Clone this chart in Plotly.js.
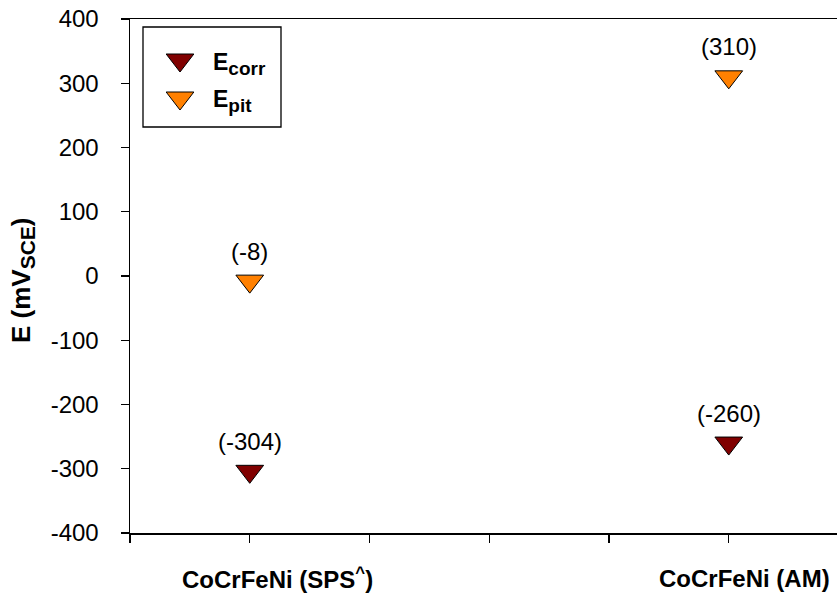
<!DOCTYPE html>
<html><head><meta charset="utf-8">
<script src="https://cdn.plot.ly/plotly-3.0.1.min.js"></script>
<style>html,body{margin:0;padding:0;background:#fff}</style></head>
<body>
<div id="chart" style="width:837px;height:593px"></div>
<script>
// ---- data ----
const categories = ['CoCrFeNi (SPS<sup>^</sup>)', 'CoCrFeNi (AM)'];
const categoryX = [1, 5];
const eCorr = [-304, -260];
const ePit = [-8, 310];
const seriesNames = ['E<sub><span style="font-size:19px">corr</span></sub>', 'E<sub><span style="font-size:19px">pit</span></sub>'];
const yTickVals = [-400, -300, -200, -100, 0, 100, 200, 300, 400];
const yTickText = ['-400', '-300', '-200', '-100', '0', '100', '200', '300', '400'];
const xTickVals = [0, 1, 2, 3, 4, 5];

// ---- styling ----
const W = 837, H = 593, L = 130, T = 19, R = 0, B = 60;
const PW = W - L - R, PH = H - T - B;
const px = x => (x - L) / PW;
const py = y => (H - B - y) / PH;
const colors = ['#800000', '#FF8000'];
const FONT = 'Liberation Sans, Arial, sans-serif';
const MS = 24;
const mk = c => ({symbol: 'triangle-down', size: MS, color: c, line: {color: '#000', width: 1}});
const catShift = [28, 16];

const series = [eCorr, ePit];
const traces = series.map((s, i) => ({
  x: categoryX, y: s, type: 'scatter', mode: 'markers',
  marker: mk(colors[i]), name: seriesNames[i], showlegend: false, cliponaxis: false
}));

// custom legend markers
traces.push({
  x: [px(180), px(180)], y: [py(60), py(98)], xaxis: 'x2', yaxis: 'y2',
  type: 'scatter', mode: 'markers', showlegend: false, hoverinfo: 'skip',
  marker: {symbol: 'triangle-down', size: MS, color: colors, line: {color: '#000', width: 1}}
});

const annotations = [];
series.forEach(s => s.forEach((v, j) => {
  annotations.push({x: categoryX[j], y: v, text: '(' + v + ')', showarrow: false,
    yshift: 30, xanchor: 'center', yanchor: 'middle', font: {family: FONT, size: 24, color: '#000'}});
}));
// category labels
categories.forEach((c, j) => {
  annotations.push({x: categoryX[j], xref: 'x', yref: 'paper', y: py(578), text: '<b>' + c + '</b>',
    xshift: catShift[j], showarrow: false, xanchor: 'center', yanchor: 'middle',
    font: {family: FONT, size: 24, color: '#000'}});
});
// legend labels
seriesNames.forEach((n, i) => {
  annotations.push({xref: 'paper', yref: 'paper', x: px(211), y: py([64, 101][i]), text: '<b>' + n + '</b>',
    showarrow: false, xanchor: 'left', yanchor: 'middle', font: {family: FONT, size: 23, color: '#000'}});
});
// y title
annotations.push({xref: 'paper', yref: 'paper', x: px(22), y: py(280), textangle: -90,
  text: '<b>E (mV<sub><span style="font-size:21px">SCE</span></sub>)</b>', showarrow: false, xanchor: 'center', yanchor: 'middle',
  font: {family: FONT, size: 26, color: '#000'}});

const layout = {
  width: W, height: H, margin: {l: L, r: R, t: T, b: B}, autosize: false,
  paper_bgcolor: '#fff', plot_bgcolor: '#fff', showlegend: false,
  font: {family: FONT, size: 24, color: '#000'},
  xaxis: {range: [0, 707 / 119.75], tickvals: xTickVals, showticklabels: false, ticks: 'outside', ticklen: 8,
    tickwidth: 1.3, tickcolor: '#000', showline: true, linecolor: '#000', linewidth: 1.5, mirror: true,
    showgrid: false, zeroline: false},
  yaxis: {range: [-400, 400], tickvals: yTickVals, ticktext: yTickText, ticks: 'outside', ticklen: 8, tickwidth: 1.3, tickcolor: '#000',
    showline: true, linecolor: '#000', linewidth: 1.5, mirror: false, showgrid: false, zeroline: false,
    ticklabelstandoff: 17, tickfont: {family: FONT, size: 24}},
  xaxis2: {overlaying: 'x', range: [0, 1], visible: false, fixedrange: true},
  yaxis2: {overlaying: 'y', range: [0, 1], visible: false, fixedrange: true},
  shapes: [{type: 'rect', xref: 'paper', yref: 'paper', x0: px(143), x1: px(281), y0: py(127), y1: py(27),
    line: {color: '#000', width: 1.3}, fillcolor: 'rgba(0,0,0,0)', layer: 'below'}],
  annotations: annotations
};
Plotly.newPlot('chart', traces, layout, {staticPlot: true});
</script>
</body></html>
